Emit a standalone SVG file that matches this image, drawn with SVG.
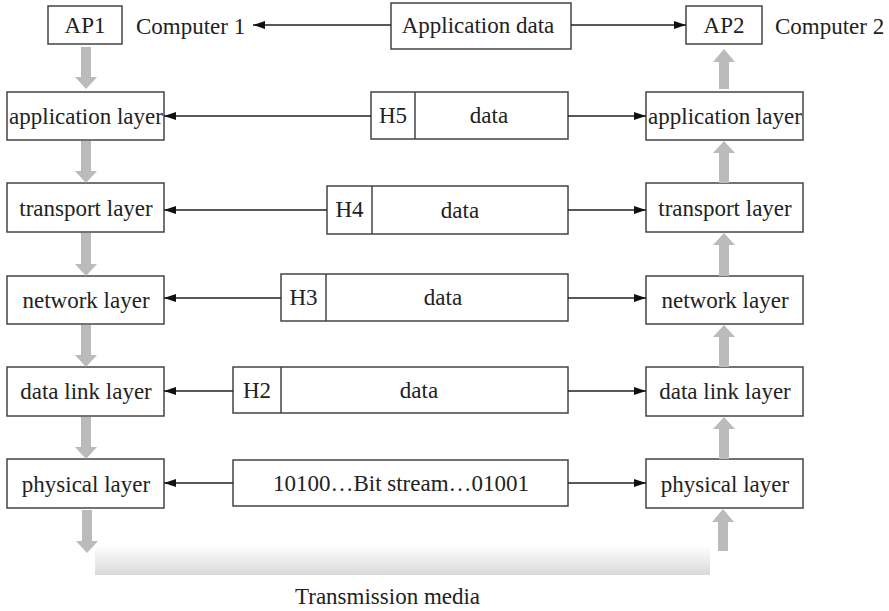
<svg xmlns="http://www.w3.org/2000/svg" width="889" height="611" viewBox="0 0 889 611">
<style>
.box{fill:#fff;stroke:#444;stroke-width:1.5}
.t{font-family:'Liberation Serif','Tinos','Times New Roman','DejaVu Serif',serif;font-size:23px;fill:#222;text-anchor:middle}
.ts{font-family:'Liberation Serif','Tinos','Times New Roman','DejaVu Serif',serif;font-size:23px;fill:#222}
.c{stroke:#222;stroke-width:1.3;fill:none;marker-end:url(#ah)}
.g{fill:#bbb;stroke:none}
</style>
<defs>
<marker id="ah" markerUnits="userSpaceOnUse" markerWidth="13" markerHeight="9" refX="12" refY="4" orient="auto">
<path d="M0,0 L12,4 L0,8 z" fill="#111"/>
</marker>
<linearGradient id="media" x1="0" y1="0" x2="0" y2="1">
<stop offset="0" stop-color="#ffffff"/>
<stop offset="1" stop-color="#d9d9d9"/>
</linearGradient>
</defs>

<g id="ap1"><rect class="box" x="48" y="6" width="74" height="38"/><text class="t" x="85" y="33">AP1</text></g>
<g id="computer1"><text class="ts" x="136" y="34">Computer 1</text></g>
<g id="appdata"><rect class="box" x="391" y="3" width="180" height="46"/><text class="t" x="478" y="33">Application data</text></g>
<g id="ap2"><rect class="box" x="686" y="6" width="76" height="38"/><text class="t" x="724" y="33">AP2</text></g>
<g id="computer2"><text class="ts" x="775" y="34">Computer 2</text></g>

<g id="l-app"><rect class="box" x="7" y="92" width="157" height="48"/><text class="t" x="86" y="124">application layer</text></g>
<g id="l-trans"><rect class="box" x="7" y="183" width="157" height="49"/><text class="t" x="86" y="216">transport layer</text></g>
<g id="l-net"><rect class="box" x="7" y="276" width="157" height="48"/><text class="t" x="86" y="308">network layer</text></g>
<g id="l-dl"><rect class="box" x="7" y="367" width="157" height="49"/><text class="t" x="86" y="399">data link layer</text></g>
<g id="l-phy"><rect class="box" x="7" y="459" width="157" height="49"/><text class="t" x="86" y="492">physical layer</text></g>

<g id="r-app"><rect class="box" x="646" y="92" width="157" height="48"/><text class="t" x="725" y="124">application layer</text></g>
<g id="r-trans"><rect class="box" x="646" y="183" width="157" height="49"/><text class="t" x="725" y="216">transport layer</text></g>
<g id="r-net"><rect class="box" x="646" y="276" width="157" height="48"/><text class="t" x="725" y="308">network layer</text></g>
<g id="r-dl"><rect class="box" x="646" y="367" width="157" height="49"/><text class="t" x="725" y="399">data link layer</text></g>
<g id="r-phy"><rect class="box" x="646" y="459" width="157" height="49"/><text class="t" x="725" y="492">physical layer</text></g>

<g id="pdu5"><rect class="box" x="371" y="92" width="197" height="47"/><line x1="415" y1="92" x2="415" y2="139" stroke="#444" stroke-width="1.5"/><text class="t" x="393" y="123">H5</text><text class="t" x="489" y="123">data</text></g>
<g id="pdu4"><rect class="box" x="327" y="186" width="241" height="48"/><line x1="372" y1="186" x2="372" y2="234" stroke="#444" stroke-width="1.5"/><text class="t" x="349.500" y="217">H4</text><text class="t" x="460" y="218">data</text></g>
<g id="pdu3"><rect class="box" x="281" y="274" width="287" height="47"/><line x1="326" y1="274" x2="326" y2="321" stroke="#444" stroke-width="1.5"/><text class="t" x="303.500" y="305">H3</text><text class="t" x="443" y="305">data</text></g>
<g id="pdu2"><rect class="box" x="233" y="367" width="335" height="46"/><line x1="281" y1="367" x2="281" y2="413" stroke="#444" stroke-width="1.5"/><text class="t" x="257" y="398">H2</text><text class="t" x="419" y="398">data</text></g>
<g id="bits"><rect class="box" x="233" y="460" width="335" height="46"/><text class="t" x="401" y="491">10100…Bit stream…01001</text></g>

<g id="media"><rect x="95" y="545" width="615" height="30" fill="url(#media)"/><text class="ts" x="295" y="604">Transmission media</text></g>

<g id="connectors">
<line class="c" x1="391" y1="25" x2="253" y2="25"/>
<line class="c" x1="571" y1="25" x2="686" y2="25"/>
<line class="c" x1="371" y1="116" x2="164" y2="116"/>
<line class="c" x1="568" y1="116" x2="646" y2="116"/>
<line class="c" x1="327" y1="210" x2="164" y2="210"/>
<line class="c" x1="568" y1="210" x2="646" y2="210"/>
<line class="c" x1="281" y1="298" x2="164" y2="298"/>
<line class="c" x1="568" y1="298" x2="646" y2="298"/>
<line class="c" x1="233" y1="391" x2="164" y2="391"/>
<line class="c" x1="568" y1="391" x2="646" y2="391"/>
<line class="c" x1="233" y1="483" x2="164" y2="483"/>
<line class="c" x1="568" y1="483" x2="646" y2="483"/>

<polygon class="g" points="81,47 91,47 91,77 97,77 86,89 75,77 81,77"/>
<polygon class="g" points="81,141 91,141 91,171 97,171 86,183 75,171 81,171"/>
<polygon class="g" points="81,233 91,233 91,264 97,264 86,276 75,264 81,264"/>
<polygon class="g" points="81,325 91,325 91,355 97,355 86,367 75,355 81,355"/>
<polygon class="g" points="81,417 91,417 91,447 97,447 86,459 75,447 81,447"/>
<polygon class="g" points="82,510 92,510 92,541 98,541 87,553 76,541 82,541"/>

<polygon class="g" points="719,89 729,89 729,62 735,62 724,49 713,62 719,62"/>
<polygon class="g" points="719,183 729,183 729,153 735,153 724,141 713,153 719,153"/>
<polygon class="g" points="719,276 729,276 729,245 735,245 724,233 713,245 719,245"/>
<polygon class="g" points="719,367 729,367 729,337 735,337 724,325 713,337 719,337"/>
<polygon class="g" points="719,459 729,459 729,429 735,429 724,417 713,429 719,429"/>
<polygon class="g" points="718,551 728,551 728,522 734,522 723,509 712,522 718,522"/>
</g>
</svg>
